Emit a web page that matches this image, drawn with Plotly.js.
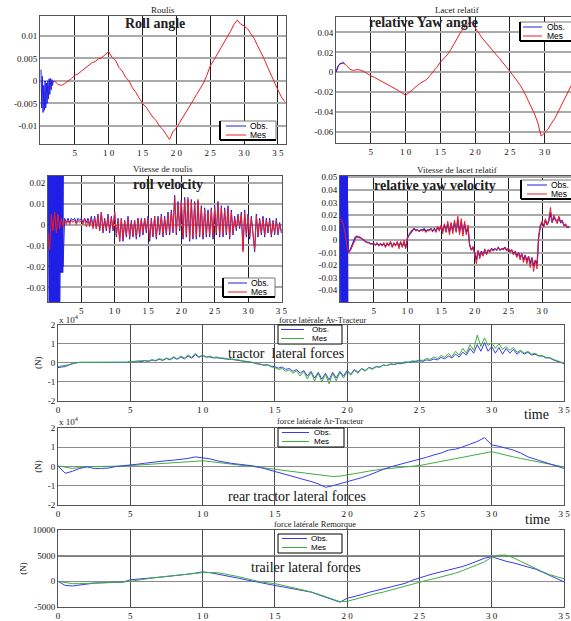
<!DOCTYPE html>
<html><head><meta charset="utf-8">
<script src="https://cdn.plot.ly/plotly-3.0.1.min.js"></script>
<style>html,body{margin:0;padding:0;background:#fff}#chart{width:571px;height:621px}</style>
</head><body><div id="chart"></div>
<script>
// ---------- time grids ----------
const T = [
0,0.25,0.5,0.75, 1,1.25,1.5,1.75, 2,2.25,2.5,2.75, 3,3.25,3.5,3.75, 4,4.25,4.5,4.75,
5,5.25,5.5,5.75, 6,6.25,6.5,6.75, 7,7.25,7.5,7.75, 8,8.25,8.5,8.75, 9,9.25,9.5,9.75,
10,10.25,10.5,10.75, 11,11.25,11.5,11.75, 12,12.25,12.5,12.75, 13,13.25,13.5,13.75, 14,14.25,14.5,14.75,
15,15.25,15.5,15.75, 16,16.25,16.5,16.75, 17,17.25,17.5,17.75, 18,18.25,18.5,18.75, 19,19.25,19.5,19.75,
20,20.25,20.5,20.75, 21,21.25,21.5,21.75, 22,22.25,22.5,22.75, 23,23.25,23.5,23.75, 24,24.25,24.5,24.75,
25,25.25,25.5,25.75, 26,26.25,26.5,26.75, 27,27.25,27.5,27.75, 28,28.25,28.5,28.75, 29,29.25,29.5,29.75,
30,30.25,30.5,30.75, 31,31.25,31.5,31.75, 32,32.25,32.5,32.75, 33,33.25,33.5,33.75, 34,34.25,34.5,34.75,
35];
const T2 = [
0,0.5,1,1.5,2,2.5,3,3.5,4,4.5, 5,5.5,6,6.5,7,7.5,8,8.5,9,9.5,
10,10.5,11,11.5,12,12.5,13,13.5,14,14.5, 15,15.5,16,16.5,17,17.5,18,18.5,19,19.5,
20,20.5,21,21.5,22,22.5,23,23.5,24,24.5, 25,25.5,26,26.5,27,27.5,28,28.5,29,29.5,
30,30.5,31,31.5,32,32.5,33,33.5,34,34.5, 35,35.5,36];

// ---------- Panel 1 : Roulis (roll angle) ----------
const rollAngleMes = [
-.002,-.003,-.0015,-.0005,.0,-.0008,-.001,-.0006,.0,.0005,
.0012,.0016,.0022,.0028,.0032,.0040,.0043,.0049,.0052,.0058,
.0065,.0052,.0046,.0030,.0022,.0008,.0,-.0015,-.0025,-.0038,
-.0050,-.0058,-.0070,-.0080,-.0088,-.0100,-.0108,-.0120,-.0130,-.0112,
-.0105,-.0092,-.0080,-.0070,-.0055,-.0043,-.0030,-.0018,-.0005,.0012,
.0033,.0045,.0058,.0070,.0082,.0097,.0110,.0125,.0135,.0126,
.0122,.0116,.0106,.0094,.0078,.0064,.0048,.0030,.0012,-.0003,
-.0020,-.0035,-.0046];
const rollAngleObsT = [0,0.1,0.2,0.3,0.4,0.5,0.6,0.7,0.8,0.9,1,1.1,1.2,1.3,1.4,1.5,1.6,1.7,1.8];
const rollAngleObs = [.0025,-.006,.001,-.007,-.001,-.0065,.0,-.006,-.0005,-.005,.0,-.004,.0005,-.003,.0005,-.002,.0003,-.001,.0];

// ---------- Panel 2 : Lacet relatif (relative yaw angle) ----------
const yawAngleMes = [
.0,.0085,.0095,.007,.003,.0018,.0027,.0022,.0008,-.0018,
-.0035,-.005,-.0068,-.0085,-.0105,-.0125,-.0145,-.0165,-.0185,-.021,
-.023,-.0205,-.0175,-.014,-.0115,-.0095,-.0075,-.0035,.0005,.005,
.010,.0135,.0175,.0225,.029,.036,.041,.045,.049,.050,
.0445,.040,.0345,.0305,.026,.022,.018,.014,.010,.0055,
.001,-.0035,-.008,-.013,-.019,-.026,-.034,-.041,-.050,-.064,
-.061,-.057,-.051,-.046,-.039,-.032,-.025,-.018,-.011];
const yawAngleObsT = [0,0.25,0.5,0.75,1,1.25];
const yawAngleObs = [.0,.006,.0078,.009,.0096,.0088];

// ---------- Panel 3 : Vitesse de roulis (roll velocity) ----------
const rollVelStartT = [0.1,0.2,0.3,0.4,0.5,0.6,0.7,0.8,0.9,1,1.1,1.2,1.3,1.4,1.5,1.6,1.7,1.8,1.9,2,2.1,2.2,2.3];
const rollVelStart = [.05,-.05,.05,-.05,.05,-.05,.05,-.05,.05,-.05,.05,-.05,.05,-.05,.05,-.05,.05,-.023,.05,-.023,.05,-.023,.04];
const rollVelObs = [
.05,-.05,.05,-.05,  .05,-.05,.05,-.05,  .04,-.02,.003,.001,  .003,.001,.003,.002,
.003,.001,.003,.002,  .003,.001,.003,.001,  .003,.000,.004,-.001,  .004,-.002,.005,-.003,
.006,-.004,.003,-.003,  .005,-.004,.004,-.003,  .006,-.006,.003,-.008,  .003,-.008,.002,-.006,
.004,-.007,.002,-.006,  .002,-.007,.003,-.006,  .003,-.005,.003,-.004,  .004,-.008,.003,-.006,
.004,-.007,.004,-.005,  .005,-.006,.004,-.005,  .006,-.005,.007,-.004,  .014,-.005,.011,-.003,
.012,-.007,.013,-.006,  .012,-.008,.012,-.007,  .011,-.007,.011,-.006,  .009,-.007,.008,-.006,
.007,-.006,.008,-.007,  .009,-.005,.011,-.006,  .009,-.006,.008,-.005,  .009,-.007,.007,-.005,
.004,-.003,.005,-.002,  .006,-.012,.007,-.006,  .005,-.007,.004,-.005,  -.013,.005,-.006,.003,
-.005,.004,-.006,.003,  -.004,.003,-.006,.002,  -.005,.003,-.005,.001,  -.004];
const rollVelMes = [
-.004,-.012,.005,-.003,  .006,-.004,.005,-.002,  .003,-.001,.002,.000,  .002,.000,.002,.001,
.002,.000,.002,.001,  .002,.000,.003,-.001,  .002,-.001,.003,-.002,  .003,-.002,.004,-.003,
.006,-.003,.002,-.002,  .004,-.003,.003,-.002,  .006,-.005,.002,-.008,  .003,-.007,.002,-.005,
.003,-.006,.001,-.005,  .002,-.006,.003,-.005,  .002,-.004,.003,-.003,  .003,-.007,.002,-.005,
.004,-.006,.003,-.004,  .004,-.005,.003,-.004,  .005,-.004,.006,-.003,  .013,-.004,.010,-.002,
.011,-.006,.012,-.005,  .013,-.007,.011,-.006,  .010,-.006,.012,-.005,  .008,-.006,.007,-.005,
.006,-.005,.007,-.006,  .008,-.004,.010,-.005,  .008,-.005,.007,-.004,  .008,-.006,.006,-.004,
.003,-.002,.004,-.001,  .005,-.013,.006,-.005,  .004,-.006,.003,-.004,  -.012,.004,-.005,.002,
-.004,.003,-.005,.002,  -.003,.002,-.005,.001,  -.004,.002,-.004,.000,  -.003];

// ---------- Panel 4 : Vitesse de lacet relatif (relative yaw velocity) ----------
const yawVelStartT = [0.05,0.15,0.25,0.35,0.45,0.55,0.65,0.75,0.85,0.95,1.05,1.15];
const yawVelStart = [.07,-.07,.07,-.07,.07,-.07,.07,-.07,.07,-.07,.07,-.07];
const yawVelObs = [
.06,-.06,.06,-.06,  .06,-.010,-.008,-.005,  -.001,.002,.003,.002,  .002,.001,.000,-.001,
-.002,-.002,-.003,-.003,  -.003,-.004,-.003,-.004,  -.003,-.004,-.003,-.005,  -.003,-.004,-.002,-.005,
-.003,-.004,-.002,-.005,  -.002,-.005,-.002,-.006,  .001,.004,.006,.008,  .009,.008,.008,.007,
.008,.008,.009,.007,  .008,.008,.009,.007,  .009,.007,.010,.008,  .011,.007,.012,.007,
.013,.006,.013,.007,  .014,.007,.016,.006,  .015,.005,.013,.006,  .010,-.004,-.008,-.006,
-.010,-.016,-.009,-.013,  -.009,-.012,-.008,-.011,  -.008,-.009,-.007,-.008,  -.007,-.008,-.006,-.008,
-.007,-.007,-.006,-.008,  -.007,-.009,-.008,-.011,  -.009,-.013,-.010,-.014,  -.011,-.016,-.012,-.017,
-.013,-.019,-.014,-.021,  -.016,-.020,.002,.011,  .014,.011,.016,.012,  .015,.022,.014,.018,
.016,.014,.018,.014,  .015,.012,.012,.010,  .010];
const yawVelMes = [
.017,.016,.012,.006,  -.004,-.010,-.009,-.006,  -.002,.001,.003,.003,  .002,.001,.000,-.001,
-.002,-.002,-.003,-.003,  -.003,-.004,-.002,-.005,  -.003,-.005,-.002,-.006,  -.002,-.005,-.001,-.006,
-.002,-.005,-.001,-.007,  -.001,-.006,.000,-.007,  .002,.004,.007,.008,  .009,.007,.008,.007,
.008,.007,.008,.006,  .008,.007,.009,.007,  .009,.006,.011,.007,  .012,.005,.013,.006,
.015,.004,.014,.005,  .016,.006,.019,.004,  .017,.003,.015,.004,  .012,-.004,-.008,-.005,
-.012,-.019,-.008,-.015,  -.010,-.013,-.007,-.012,  -.008,-.010,-.007,-.009,  -.007,-.008,-.006,-.008,
-.007,-.008,-.006,-.009,  -.006,-.010,-.008,-.012,  -.009,-.014,-.010,-.016,  -.011,-.018,-.012,-.019,
-.013,-.022,-.014,-.025,  -.016,-.023,.003,.012,  .015,.010,.017,.012,  .016,.026,.014,.020,
.017,.013,.019,.015,  .016,.011,.013,.010,  .011];

// ---------- Panel 5 : force latérale Av-Tracteur (x 10^4 N) ----------
const tractorObs = [
-.25,-.24,-.2,-.12,  -.05,.0,.02,.02,  .02,.0,.01,.0,  .0,.01,.0,.0,  .0,.01,.02,.02,
.05,.04,.08,.06,  .1,.07,.14,.1,  .18,.12,.22,.15,  .27,.18,.3,.2,  .35,.24,.42,.28,
.38,.3,.3,.25,  .26,.22,.22,.18,  .18,.15,.15,.1,  .08,.05,.0,-.05,  -.08,-.12,-.1,-.18,
-.2,-.28,-.22,-.35,  -.3,-.45,-.35,-.55,  -.4,-.7,-.45,-.8,  -.5,-.85,-.55,-.9,  -.5,-.8,-.45,-.7,
-.4,-.6,-.35,-.5,  -.3,-.4,-.25,-.3,  -.2,-.22,-.12,-.15,  -.08,-.1,-.04,-.05,  .0,.02,.05,.05,
.1,.08,.15,.12,  .2,.15,.28,.2,  .35,.25,.45,.3,  .55,.4,.75,.5,  .95,.6,1.05,.6,
.85,.5,.8,.45,  .75,.5,.7,.45,  .6,.45,.55,.4,  .45,.35,.35,.25,  .25,.15,.1,.02,
-.05];
const tractorMes = [
-.2,-.18,-.15,-.1,  -.04,.0,.02,.02,  .02,.01,.0,.0,  .0,.0,.01,.0,  .01,.0,.02,.03,
.06,.08,.07,.1,  .12,.1,.16,.12,  .22,.15,.25,.18,  .32,.2,.35,.25,  .42,.28,.5,.3,
.42,.28,.35,.28,  .3,.25,.25,.2,  .2,.16,.15,.1,  .08,.05,.02,-.05,  -.06,-.15,-.12,-.22,
-.25,-.35,-.3,-.45,  -.38,-.55,-.42,-.7,  -.45,-.85,-.5,-.95,  -.55,-1.0,-.6,-1.1,  -.55,-.95,-.5,-.8,
-.45,-.65,-.4,-.55,  -.3,-.45,-.25,-.35,  -.2,-.25,-.12,-.15,  -.05,-.08,.0,-.02,  .05,.03,.1,.08,
.15,.12,.22,.18,  .3,.22,.38,.28,  .48,.32,.6,.4,  .75,.5,.95,.65,  1.45,.85,1.3,.9,
1.05,.75,1.0,.7,  .85,.65,.8,.55,  .65,.5,.6,.45,  .5,.38,.38,.28,  .28,.18,.12,.05,
-.02];

// ---------- Panel 6 : force latérale Ar-Tracteur (x 10^4 N) ----------
const rearObs = [
.03,-.35,-.25,-.1,-.02,-.1,-.1,-.08,.0,.03,
.07,.12,.17,.22,.26,.3,.33,.36,.42,.5,
.45,.4,.3,.22,.16,.12,.08,.03,-.05,-.15,
-.28,-.38,-.45,-.55,-.68,-.78,-.9,-1.08,-1.0,-.9,
-.82,-.72,-.58,-.45,-.28,-.15,-.02,.08,.18,.27,
.35,.48,.6,.7,.85,.9,1.02,1.15,1.3,1.5,
1.12,1.05,.95,.85,.7,.5,.38,.25,.12,.03,
-.1];
const rearMes = [
.03,-.05,-.1,-.05,.0,.0,.0,.0,.0,.02,
.05,.07,.09,.11,.13,.16,.18,.21,.24,.27,
.3,.26,.22,.17,.13,.08,.04,.0,-.05,-.1,
-.15,-.2,-.25,-.3,-.35,-.4,-.45,-.5,-.52,-.5,
-.45,-.38,-.31,-.24,-.17,-.13,-.1,-.07,-.04,.0,
.05,.12,.2,.27,.34,.41,.48,.56,.63,.7,
.77,.68,.58,.5,.42,.34,.26,.19,.12,.05,
-.02];

// ---------- Panel 7 : force latérale Remorque (N) ----------
const trailerObs = [
0,-800,-900,-700,-450,-350,-300,-250,-200,-150,
300,400,500,650,800,950,1050,1200,1400,1600,
1850,1700,1450,1200,900,600,300,0,-250,-500,
-800,-1050,-1300,-1600,-1850,-2100,-2600,-3100,-3700,-4050,
-3300,-3000,-2600,-2150,-1800,-1400,-1100,-800,-400,200,
700,1100,1500,1850,2100,2500,2900,3400,3900,4500,
4800,4300,3900,3600,3200,2900,2400,1800,1200,500,
-100];
const trailerMes = [
0,-250,-450,-450,-400,-350,-330,-330,-250,-120,
0,250,450,650,800,950,1100,1250,1400,1550,
1700,1700,1700,1450,1200,900,550,200,-100,-300,
-450,-750,-1050,-1400,-1700,-2050,-2500,-3000,-3500,-3950,
-3900,-3500,-3100,-2700,-2400,-2100,-1700,-1300,-950,-500,
-150,200,500,850,1100,1600,2100,2700,3300,3800,
4700,5100,5100,4600,3900,3200,2500,1900,1300,900,
500];

// ---------- tick values / labels, legend names ----------
const xTicksTop = [5,10,15,20,25,30,35];
const xTickTextTop = ['5','1 0','1 5','2 0','2 5','3 0','3 5'];
const xTicksRight = [5,10,15,20,25,30];
const xTickTextRight = ['5','1 0','1 5','2 0','2 5','3 0'];
const xTicksBot = [0,5,10,15,20,25,30,35];
const xTickTextBot = ['0','5','1 0','1 5','2 0','2 5','3 0','3 5'];
const yTicks1 = [0.01,0.005,0,-0.005,-0.01];
const yText1 = ['0.01','0.005','0','-0.005','-0.01'];
const yTicks2 = [0.04,0.02,0,-0.02,-0.04,-0.06];
const yText2 = ['0.04','0.02','0','-0.02','-0.04','-0.06'];
const yTicks3 = [0.02,0.01,0,-0.01,-0.02,-0.03];
const yText3 = ['0.02','0.01','0','-0.01','-0.02','-0.03'];
const yTicks4 = [0.05,0.04,0.03,0.02,0.01,0,-0.01,-0.02,-0.03,-0.04];
const yText4 = ['0.05','0.04','0.03','0.02','0.01','0','-0.01','-0.02','-0.03','-0.04'];
const yTicksF = [2,1,0,-1,-2];
const yTextF = ['2','1','0','-1','-2'];
const yTicks7 = [10000,5000,0,-5000];
const yText7 = ['10000','5000','0','-5000'];
const legendNames = ['Obs.', 'Mes'];

// ---------- styling ----------
const W = 571, H = 621;
const BLUE = '#1f1fe6', RED = '#ee1c24', GREEN = '#3fae3f', BLUE2 = '#3a3af2';
const serif = 'Liberation Serif, DejaVu Serif, serif';
const sans = 'Liberation Sans, Arial, sans-serif';

function line(color, w) { return {color: color, width: w || 1}; }

const traces = [
  {x: T2, y: rollAngleMes, name: legendNames[1], xaxis: 'x', yaxis: 'y', line: line(RED)},
  {x: rollAngleObsT, y: rollAngleObs, name: legendNames[0], xaxis: 'x', yaxis: 'y', line: line(BLUE)},
  {x: T2, y: yawAngleMes, name: legendNames[1], xaxis: 'x2', yaxis: 'y2', line: line(RED)},
  {x: yawAngleObsT, y: yawAngleObs, name: legendNames[0], xaxis: 'x2', yaxis: 'y2', line: line(BLUE)},
  {x: rollVelStartT, y: rollVelStart, name: legendNames[0], xaxis: 'x3', yaxis: 'y3', line: line(BLUE, 1.5)},
  {x: T, y: rollVelObs, name: legendNames[0], xaxis: 'x3', yaxis: 'y3', line: line(BLUE)},
  {x: T, y: rollVelMes, name: legendNames[1], xaxis: 'x3', yaxis: 'y3', line: line(RED)},
  {x: yawVelStartT, y: yawVelStart, name: legendNames[0], xaxis: 'x4', yaxis: 'y4', line: line(BLUE, 1.5)},
  {x: T, y: yawVelObs, name: legendNames[0], xaxis: 'x4', yaxis: 'y4', line: line(BLUE, 1.3)},
  {x: T, y: yawVelMes, name: legendNames[1], xaxis: 'x4', yaxis: 'y4', line: line(RED)},
  {x: T, y: tractorObs, name: legendNames[0], xaxis: 'x5', yaxis: 'y5', line: line(BLUE2)},
  {x: T, y: tractorMes, name: legendNames[1], xaxis: 'x5', yaxis: 'y5', line: line(GREEN)},
  {x: T2, y: rearMes, name: legendNames[1], xaxis: 'x6', yaxis: 'y6', line: line(GREEN)},
  {x: T2, y: rearObs, name: legendNames[0], xaxis: 'x6', yaxis: 'y6', line: line(BLUE2)},
  {x: T2, y: trailerObs, name: legendNames[0], xaxis: 'x7', yaxis: 'y7', line: line(BLUE2)},
  {x: T2, y: trailerMes, name: legendNames[1], xaxis: 'x7', yaxis: 'y7', line: line(GREEN)}
];
traces.forEach(t => { t.type = 'scatter'; t.mode = 'lines'; t.hoverinfo = 'skip'; t.showlegend = false; });

// panel frames in pixels: [left, right], [top, bottom]
const frames = [
  {px: [40, 286], py: [16, 144], xr: [-0.15, 36.2], yr: [-0.014, 0.0144], top: true, xt: [xTicksTop, xTickTextTop]},
  {px: [336, 571], py: [17, 143], xr: [0, 33.8], yr: [-0.071, 0.0555], top: true, xt: [xTicksRight, xTickTextRight]},
  {px: [48, 282], py: [176, 302], xr: [0, 35.1], yr: [-0.037, 0.0232], top: true, xt: [xTicksTop, xTickTextTop]},
  {px: [340, 571], py: [176, 302], xr: [0, 34.3], yr: [-0.0494, 0.051], top: true, xt: [xTicksRight, xTickTextRight]},
  {px: [58, 564], py: [324.5, 401], xr: [0, 35], yr: [-2, 2], top: false, xt: [xTicksBot, xTickTextBot]},
  {px: [58, 564], py: [428, 505], xr: [0, 35], yr: [-2, 2], top: false, xt: [xTicksBot, xTickTextBot]},
  {px: [58, 564], py: [530, 607], xr: [0, 35], yr: [-5000, 10000], top: false, xt: [xTicksBot, xTickTextBot]}
];
const yTickSets = [[yTicks1, yText1], [yTicks2, yText2], [yTicks3, yText3], [yTicks4, yText4], [yTicksF, yTextF], [yTicksF, yTextF], [yTicks7, yText7]];

const layout = {
  width: W, height: H, margin: {l: 0, r: 0, t: 0, b: 0},
  paper_bgcolor: '#fff', plot_bgcolor: '#fff', showlegend: false,
  annotations: [], shapes: []
};
const tickFont = {family: serif, size: 9, color: '#111'};
frames.forEach((f, i) => {
  const n = i === 0 ? '' : String(i + 1);
  const xd = [f.px[0] / W, Math.min(1, f.px[1] / W)];
  const yd = [1 - f.py[1] / H, 1 - f.py[0] / H];
  layout['xaxis' + n] = {
    domain: xd, range: f.xr, anchor: 'y' + n, automargin: false,
    tickmode: 'array', tickvals: f.xt[0], ticktext: f.xt[1],
    tickfont: tickFont, ticks: '', showgrid: true,
    gridcolor: f.top ? '#1c1c1c' : '#4a4a4a', gridwidth: 1, zeroline: false,
    showline: true, mirror: true, linecolor: '#555', linewidth: 1, fixedrange: true
  };
  layout['yaxis' + n] = {
    domain: yd, range: f.yr, anchor: 'x' + n, automargin: false,
    tickmode: 'array', tickvals: yTickSets[i][0], ticktext: yTickSets[i][1],
    tickfont: tickFont, ticks: '', showgrid: true,
    gridcolor: f.top ? '#a9a9a9' : '#8c8c8c', gridwidth: f.top ? 2 : 1, zeroline: false,
    showline: true, mirror: true, linecolor: '#555', linewidth: 1, fixedrange: true
  };
  if (!f.top) layout['yaxis' + n].title = {text: '(N)', font: {family: serif, size: 9, color: '#111'}, standoff: 4};
});

function ann(text, x, y, font, xanchor) {
  layout.annotations.push({text: text, x: x / W, y: 1 - y / H, xref: 'paper', yref: 'paper',
    xanchor: xanchor || 'center', yanchor: 'middle', showarrow: false, font: font});
}
function pline(x0, y0, x1, y1, color, width) {
  layout.shapes.push({type: 'line', xref: 'paper', yref: 'paper', x0: x0 / W, x1: x1 / W, y0: 1 - y0 / H, y1: 1 - y1 / H,
    line: {color: color, width: width}, layer: 'above'});
}
// compact boxed legend: box [left,right,top,bottom], row centres, sample line x-span, text x
function miniLegend(b, rows, lx, tx, fs, colors, heavy) {
  layout.shapes.push({type: 'rect', xref: 'paper', yref: 'paper', x0: b[0] / W, x1: b[1] / W, y0: 1 - b[3] / H, y1: 1 - b[2] / H,
    line: {color: heavy ? '#777' : '#000', width: 1}, fillcolor: '#fff', layer: 'above'});
  if (heavy) { pline(b[0], b[2], b[0], b[3], '#000', 2); pline(b[0], b[3], b[1], b[3], '#000', 2); }
  rows.forEach((ry, k) => {
    pline(lx[0], ry, lx[1], ry, colors[k], 1);
    ann(legendNames[k], tx, ry, {family: sans, size: fs, color: '#000'}, 'left');
  });
}
miniLegend([220, 276, 121, 140], [126, 135], [226, 246], 248, 8.5, [BLUE, RED], true);
miniLegend([520, 590, 22, 41], [27, 36], [523, 542], 545, 8.5, [BLUE, RED], true);
miniLegend([223, 275, 278, 297], [283, 292], [228, 247], 249, 8.5, [BLUE, RED], true);
miniLegend([521, 590, 180, 199], [185, 194], [527, 547], 549, 8.5, [BLUE, RED], true);
miniLegend([278, 342, 325, 344], [329.5, 338.5], [281, 304], 310, 8, [BLUE2, GREEN], false);
miniLegend([278, 344, 428, 447], [432.5, 441.5], [282, 309], 312, 8, [BLUE2, GREEN], false);
miniLegend([278, 342, 534, 553], [538.5, 547.5], [282, 307], 309, 8, [BLUE2, GREEN], false);

const smallTitle = {family: serif, size: 9, color: '#222'};
const smallTitle2 = {family: serif, size: 8.5, color: '#222'};
ann('Roulis', 163, 10, smallTitle);
ann('Lacet relatif', 457, 10, smallTitle);
ann('Vitesse de roulis', 163, 169, smallTitle);
ann('Vitesse de lacet relatif', 457, 170, smallTitle);
ann('force latérale Av-Tracteur', 322, 320, smallTitle2);
ann('force latérale Ar-Tracteur', 320, 421, smallTitle2);
ann('force latérale Remorque', 315, 524, smallTitle2);
ann('x 10<sup>4</sup>', 57, 319, smallTitle, 'left');
ann('x 10<sup>4</sup>', 57, 421, smallTitle, 'left');

const bold = {family: serif, size: 14, color: '#222', weight: 'bold'};
ann('Roll angle', 155, 24, bold);
ann('relative Yaw angle', 424, 23, bold);
ann('roll velocity', 168, 184, bold);
ann('relative yaw velocity', 435, 185, bold);

const big = {family: serif, size: 14, color: '#111'};
ann('tractor\u00a0 lateral forces', 286, 353, big);
ann('rear tractor lateral forces', 297, 496, big);
ann('trailer lateral forces', 306, 567, big);
ann('time', 536, 414, big);
ann('time', 537, 519, big);

// emphasised 5000 N reference line in trailer panel
layout.shapes.push({type: 'line', xref: 'x7 domain', yref: 'y7', x0: 0, x1: 1, y0: yTicks7[1], y1: yTicks7[1],
  line: {color: '#000', width: 1.5}, layer: 'below'});

Plotly.newPlot('chart', traces, layout, {staticPlot: true, displayModeBar: false});
</script>
</body></html>
